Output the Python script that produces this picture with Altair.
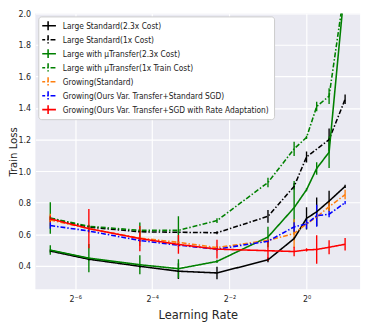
import altair as alt
import pandas as pd

lr = [0.01, 0.02, 0.05, 0.1, 0.2, 0.5, 0.8, 1.0, 1.2, 1.5, 2.0]

series_names = [
    "Large Standard(2.3x Cost)",
    "Large Standard(1x Cost)",
    "Large with μTransfer(2.3x Cost)",
    "Large with μTransfer(1x Train Cost)",
    "Growing(Standard)",
    "Growing(Ours Var. Transfer+Standard SGD)",
    "Growing(Ours Var. Transfer+SGD with Rate Adaptation)",
]
series_colors = ["#000000", "#000000", "#008000", "#008000", "#ff7f0e", "#0000ff", "#ff0000"]
series_dash = [[1, 0], [5, 2, 1.5, 2], [1, 0], [5, 2, 1.5, 2], [5, 2, 1.5, 2], [5, 2, 1.5, 2], [1, 0]]

# values (None = no point)
large_std_23 = [0.493, 0.441, 0.396, 0.365, 0.354, 0.437, 0.572, 0.700, 0.742, 0.810, 0.903]
large_std_23_err = [0.01, 0.01, 0.01, 0.05, 0.04, 0.015, 0.01, 0.07, 0.09, 0.065, 0.01]
large_std_1 = [0.700, 0.645, 0.615, 0.612, 0.609, 0.713, 0.903, 1.090, None, 1.200, 1.456]
large_std_1_err = [0.01, 0.01, 0.01, 0.01, 0.01, 0.04, 0.02, 0.035, None, 0.07, 0.03]
large_mu_23 = [0.499, 0.448, 0.406, 0.381, 0.427, 0.582, 0.768, 0.882, 1.017, 1.120, 2.200]
large_mu_23_err = [0.03, 0.09, 0.06, 0.06, 0.01, 0.065, 0.17, 0.01, 0.04, 0.10, 0.01]
large_mu_1 = [0.702, 0.650, 0.624, 0.624, 0.686, 0.928, 1.141, 1.214, 1.410, 1.476, 2.180]
large_mu_1_err = [0.10, 0.01, 0.05, 0.09, 0.015, 0.03, 0.045, 0.01, 0.03, 0.05, 0.01]
growing_std = [0.690, 0.635, 0.575, 0.548, 0.515, 0.560, 0.604, 0.665, 0.710, 0.774, 0.851]
growing_std_err = [0.04, 0.01, 0.05, 0.01, 0.01, 0.01, 0.09, 0.01, 0.01, 0.03, 0.03]
growing_var = [0.655, 0.620, 0.560, 0.530, 0.505, 0.555, 0.646, 0.665, 0.717, 0.727, 0.800]
growing_var_err = [0.02, 0.01, 0.01, 0.01, 0.01, 0.01, 0.03, 0.03, 0.07, 0.02, 0.01]
growing_ra = [0.697, 0.635, 0.572, 0.535, 0.505, 0.495, 0.490, 0.500, 0.503, 0.517, 0.536]
growing_ra_err = [0.02, 0.125, 0.08, 0.06, 0.06, 0.065, 0.03, 0.01, 0.09, 0.045, 0.04]

all_vals = [large_std_23, large_std_1, large_mu_23, large_mu_1, growing_std, growing_var, growing_ra]
all_errs = [large_std_23_err, large_std_1_err, large_mu_23_err, large_mu_1_err,
            growing_std_err, growing_var_err, growing_ra_err]

rows = []
for si, (name, vals, errs) in enumerate(zip(series_names, all_vals, all_errs)):
    for x, v, e in zip(lr, vals, errs):
        if v is None:
            continue
        rows.append({"series": name, "idx": si, "lr": x, "loss": v,
                     "lo": v - e, "hi": v + e})
df = pd.DataFrame(rows)

FONT = "DejaVu Sans Condensed, DejaVu Sans"

x_scale = alt.Scale(type="log", base=2, domain=[0.00765, 2.62], nice=False)
y_scale = alt.Scale(domain=[0.25, 2.0], nice=False)

color_scale = alt.Scale(domain=series_names, range=series_colors)
dash_scale = alt.Scale(domain=series_names, range=series_dash)

x_axis = alt.Axis(
    title="Learning Rate",
    values=[2 ** -6, 2 ** -4, 2 ** -2, 1],
    labelExpr="datum.value < 0.02 ? '2⁻⁶' : datum.value < 0.1 ? '2⁻⁴' : datum.value < 0.5 ? '2⁻²' : '2⁰'",
    labelPadding=5,
    titlePadding=6,
    titleFontSize=13,
)
y_axis = alt.Axis(title="Train Loss", values=[0.4, 0.6, 0.8, 1.0, 1.2, 1.4, 1.6, 1.8, 2.0],
                  format=".1f", titlePadding=1, labelPadding=5, titleFontSize=11.5,
                  titleBaseline="alphabetic")

legend = alt.Legend(
    title=None,
    orient="none",
    legendX=3,
    legendY=3,
    fillColor="white",
    strokeColor="#cccccc",
    cornerRadius=3,
    padding=4,
    labelFontSize=8.5,
    labelFont=FONT,
    labelColor="#222222",
    labelOffset=9,
    symbolType="M-1.6,0H1.6M0,-0.9V0.9",
    symbolSize=100,
    symbolStrokeWidth=1.6,
    clipHeight=11,
    rowPadding=3.3,
    labelLimit=400,
)

base = alt.Chart(df)

bars = base.mark_rule(strokeWidth=1.4, clip=True).encode(
    x=alt.X("lr:Q", scale=x_scale, axis=x_axis),
    y=alt.Y("lo:Q", scale=y_scale, axis=y_axis),
    y2="hi:Q",
    color=alt.Color("series:N", scale=color_scale, legend=legend, sort=series_names),
)

lines = base.mark_line(strokeWidth=1.6, clip=True).encode(
    x=alt.X("lr:Q", scale=x_scale, axis=x_axis),
    y=alt.Y("loss:Q", scale=y_scale, axis=y_axis),
    color=alt.Color("series:N", scale=color_scale, legend=legend, sort=series_names),
    strokeDash=alt.StrokeDash("series:N", scale=dash_scale, legend=legend, sort=series_names),
    detail="idx:O",
    order="lr:Q",
)

chart = alt.layer(bars, lines).properties(
    width=332,
    height=282,
    autosize=alt.AutoSizeParams(type="none"),
    padding={"left": 28, "top": 2, "right": 6, "bottom": 40},
    background="white",
).configure_view(
    fill="#EAEAF2",
    stroke=None,
).configure_axis(
    grid=True,
    gridColor="white",
    gridWidth=1.2,
    domain=False,
    ticks=False,
    labelFont=FONT,
    labelFontSize=9,
    labelColor="#262626",
    titleFont=FONT,
    titleFontWeight="normal",
    titleColor="#262626",
)

chart.save("out.html", embed_options={"renderer": "svg", "actions": False})
